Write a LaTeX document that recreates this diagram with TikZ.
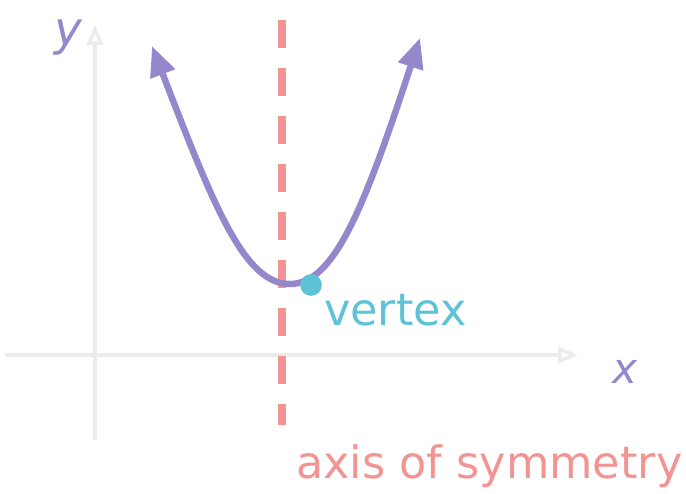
\documentclass[tikz,border=0pt]{standalone}
\usepackage{fontspec}
\setmainfont{DejaVu Sans}
\usetikzlibrary{arrows.meta}
\definecolor{curvepurple}{RGB}{150,135,205}
\definecolor{axisred}{RGB}{243,148,148}
\definecolor{vertexcyan}{RGB}{95,195,215}
\definecolor{axisgray}{RGB}{236,236,236}

\begin{document}
\begin{tikzpicture}[
  x=0.03cm,
  y=-0.03cm,
  axisline/.style={draw=axisgray,line width=3pt,-{Triangle[open,length=6mm,width=5mm]}},
  symline/.style={draw=axisred,line width=6pt,dash pattern=on 0.84cm off 0.6cm},
  curveline/.style={draw=curvepurple,line width=5.5pt,
    {Triangle[length=9mm,width=7.5mm]}-{Triangle[length=9mm,width=7.5mm]}},
  bigtext/.style={font=\fontsize{38}{40}\selectfont,inner sep=0pt}
]
\useasboundingbox (0,0) rectangle (686,493);

% axes
\coordinate (yaxisbot) at (95,440);
\coordinate (yaxistop) at (95,25);
\coordinate (xaxisleft) at (5,355);
\coordinate (xaxisright) at (578,355);
\draw[axisline] (yaxisbot) -- (yaxistop);
\draw[axisline] (xaxisleft) -- (xaxisright);
\node[bigtext,text=curvepurple,font=\fontsize{40}{40}\selectfont\itshape] (ylabel) at (68,38) {y};
\node[bigtext,text=curvepurple,font=\fontsize{36}{36}\selectfont\itshape] (xlabel) at (625,372) {x};

% axis of symmetry
\coordinate (symtop) at (282,20);
\coordinate (symbot) at (282,425);
\draw[symline] (symtop) -- (symbot);

% parabola
\coordinate (leftend) at (152,46);
\coordinate (bottom) at (290,284);
\coordinate (rightend) at (420,38);
\draw[curveline] (leftend) .. controls (215,210) and (245,284) .. (bottom)
  .. controls (335,284) and (365,205) .. (rightend);

% vertex
\node[circle,fill=vertexcyan,minimum size=0.65cm,inner sep=0pt] (vertexdot) at (311,285) {};
\node[bigtext,text=vertexcyan,anchor=base west] (vertexlabel) at (324,325) {vertex};
\node[bigtext,text=axisred,anchor=base west] (symlabel) at (296,478) {axis of symmetry};

\end{tikzpicture}
\end{document}
